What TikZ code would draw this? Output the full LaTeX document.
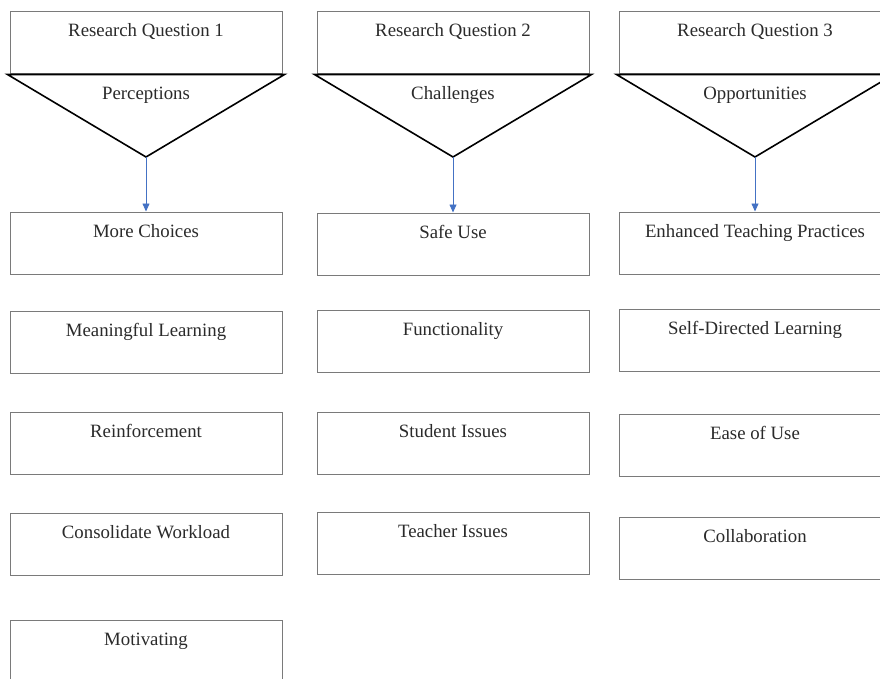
\documentclass[tikz,border=0pt]{standalone}
\usepackage{fontspec}
\setmainfont{Liberation Serif}
\usetikzlibrary{arrows.meta}
\definecolor{boxgray}{HTML}{7A7A7A}
\definecolor{arrowblue}{HTML}{4472C4}
\definecolor{textgray}{HTML}{2A2A2A}
\begin{document}
\begin{tikzpicture}[x=1pt,y=-1pt,
  box/.style={draw=boxgray, line width=1pt, inner sep=0pt, minimum width=272pt,
    text height=25pt, text depth=37pt, text=textgray, font=\fontsize{18.8}{22}\selectfont},
  tri/.style={draw=black, line width=1.6pt, line join=miter},
  lbl/.style={anchor=base, inner sep=0pt, text=textgray, font=\fontsize{18.8}{22}\selectfont},
  link/.style={draw=arrowblue, line width=0.8pt, -{Triangle[length=8pt,width=7pt]}}]
\clip (0,0) rectangle (880,679);

% research questions
\node[box] (q1) at (146,43) {Research Question 1};
\node[box] (q2) at (453,43) {Research Question 2};
\node[box] (q3) at (755,43) {Research Question 3};

\coordinate (v1) at (146,157);
\coordinate (v2) at (453,157);
\coordinate (v3) at (755,157);

\path[tri] ([xshift=-2pt]q1.south west) -- ([xshift=2pt]q1.south east) -- (v1) -- cycle;
\path[tri] ([xshift=-2pt]q2.south west) -- ([xshift=2pt]q2.south east) -- (v2) -- cycle;
\path[tri] ([xshift=-2pt]q3.south west) -- ([xshift=2pt]q3.south east) -- (v3) -- cycle;

\node[lbl] (t1) at (146,100) {Perceptions};
\node[lbl] (t2) at (453,100) {Challenges};
\node[lbl] (t3) at (755,100) {Opportunities};

% themes
\node[box] (a1) at (146,243) {More Choices};
\node[box] (a2) at (146,342) {Meaningful Learning};
\node[box] (a3) at (146,443) {Reinforcement};
\node[box] (a4) at (146,544) {Consolidate Workload};
\node[box] (a5) at (146,651) {Motivating};

\node[box] (b1) at (453,244) {Safe Use};
\node[box] (b2) at (453,341) {Functionality};
\node[box] (b3) at (453,443) {Student Issues};
\node[box] (b4) at (453,543) {Teacher Issues};

\node[box] (c1) at (755,243) {Enhanced Teaching Practices};
\node[box] (c2) at (755,340) {Self-Directed Learning};
\node[box] (c3) at (755,445) {Ease of Use};
\node[box] (c4) at (755,548) {Collaboration};

\path[link] (v1) -- (a1.north);
\path[link] (v2) -- (b1.north);
\path[link] (v3) -- (c1.north);
\end{tikzpicture}
\end{document}
